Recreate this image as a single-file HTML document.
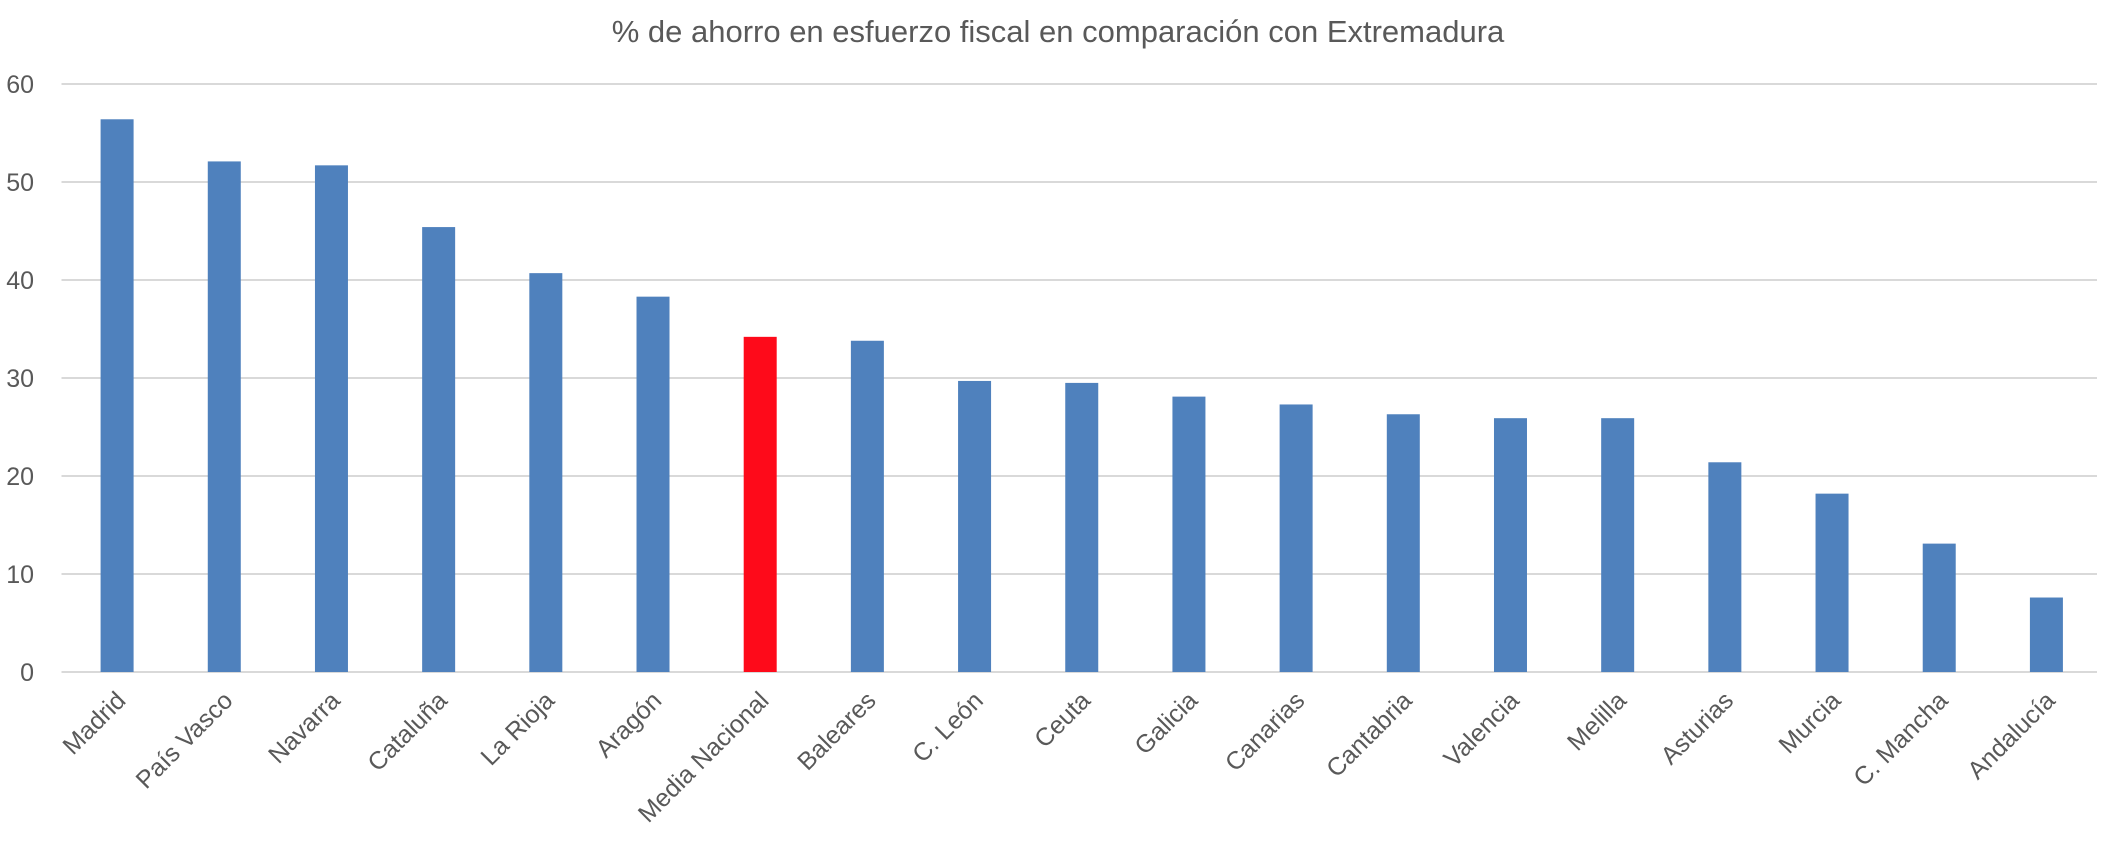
<!DOCTYPE html>
<html><head><meta charset="utf-8"><style>
body{margin:0;background:#fff;}
svg{display:block;font-family:"Liberation Sans","DejaVu Sans",sans-serif;}
</style></head><body>
<svg id="chart" width="2117" height="857">
<text x="1058" y="42" text-anchor="middle" font-size="31" fill="#595959">% de ahorro en esfuerzo fiscal en comparación con Extremadura</text>
<g id="grid"></g><g id="bars"></g><g id="xlabels"></g>
</svg>
<script>
const categories=["Madrid","País Vasco","Navarra","Cataluña","La Rioja","Aragón","Media Nacional","Baleares","C. León","Ceuta","Galicia","Canarias","Cantabria","Valencia","Melilla","Asturias","Murcia","C. Mancha","Andalucía"];
const values=[56.4,52.1,51.7,45.4,40.7,38.3,34.2,33.8,29.7,29.5,28.1,27.3,26.3,25.9,25.9,21.4,18.2,13.1,7.6];
const highlighted=["Media Nacional"];
const yTicks=[0,10,20,30,40,50,60];
(function(){
const NS="http://www.w3.org/2000/svg";
const pL=63.5,pR=2100,pT=84,pB=672,yMax=60;
const band=(pR-pL)/categories.length;
const y=v=>pB-(v/yMax)*(pB-pT);
const xc=i=>pL+band*(i+0.5);
function mk(t,a,p){const e=document.createElementNS(NS,t);for(const k in a)e.setAttribute(k,a[k]);p.appendChild(e);return e;}
const grid=document.getElementById('grid');
yTicks.forEach(t=>{
  const l=mk('line',{x1:pL-2,x2:pR-3,y1:y(t),y2:y(t),stroke:'#d9d9d9','stroke-width':2},grid);
  
  
  const tx=mk('text',{x:34,y:y(t)+9,'text-anchor':'end','font-size':25,fill:'#595959'},grid);
  tx.textContent=t;
  
  
});
const bars=document.getElementById('bars'),xl=document.getElementById('xlabels');
categories.forEach((c,i)=>{
  const w=33,v=values[i];
  const r=mk('rect',{x:xc(i)-w/2,y:y(v),width:w,height:pB-y(v),fill:highlighted.includes(c)?'#fe0a1a':'#4f81bd'},bars);
  
  
  const ax=xc(i)+10,ay=pB+30;
  const t=mk('text',{x:ax,y:ay,'text-anchor':'end','font-size':25,fill:'#595959',transform:`rotate(-45 ${ax} ${ay})`},xl);
  t.textContent=c;
  
  
});
})();
</script>
</body></html>
